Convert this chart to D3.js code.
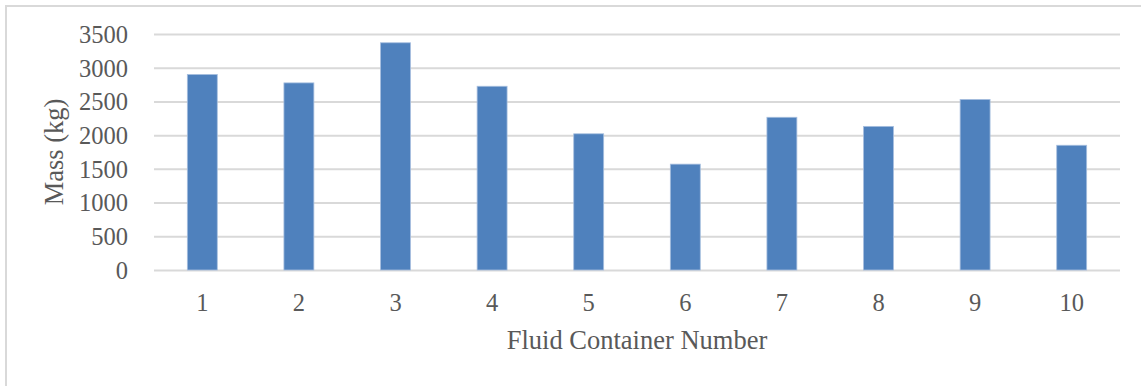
<!DOCTYPE html>
<html>
<head>
<meta charset="utf-8">
<script src="https://cdn.jsdelivr.net/npm/d3@7"></script>
<style>
html,body{margin:0;padding:0;background:#fff;}
svg{display:block;}
text{font-family:"Liberation Serif","Times New Roman",serif;fill:#595959;}
</style>
</head>
<body>
<svg id="chart" width="1141" height="386"></svg>
<script>
const categories = ["1","2","3","4","5","6","7","8","9","10"];
const massValues = [2900, 2775, 3370, 2725, 2020, 1570, 2265, 2130, 2530, 1850];
const yTicks = [0, 500, 1000, 1500, 2000, 2500, 3000, 3500];
const xTitle = "Fluid Container Number";
const yTitle = "Mass (kg)";

const svg = d3.select("#chart");
const W = 1141, H = 386;
const m = {left:154, right:21, top:34, bottom:116};
const iw = W - m.left - m.right, ih = H - m.top - m.bottom;

// outer frame
svg.append("rect").attr("x",6).attr("y",6).attr("width",W+10).attr("height",H+10)
  .attr("fill","none").attr("stroke","#d9d9d9").attr("stroke-width",2);

const g = svg.append("g").attr("transform",`translate(${m.left},${m.top})`);
const x = d3.scaleBand().domain(categories).range([0,iw]).paddingInner(0.69).paddingOuter(0.345);
const y = d3.scaleLinear().domain([0,3500]).range([ih,0]);

// gridlines
const yAxis = d3.axisLeft(y).tickValues(yTicks).tickSize(-iw).tickPadding(26).tickFormat(d3.format("d"));
const ya = g.append("g").call(yAxis);
ya.select(".domain").remove();
ya.selectAll("line").attr("stroke","#d9d9d9").attr("stroke-width",2);
ya.selectAll("text").attr("font-size",24.5).attr("fill","#595959").attr("dy","0.34em");

// bars
g.selectAll(".bar").data(massValues).join("rect")
  .attr("class","bar")
  .attr("x",(d,i)=>x(categories[i]))
  .attr("y",d=>y(d))
  .attr("width",x.bandwidth())
  .attr("height",d=>ih-y(d))
  .attr("fill","#4f81bd")
  .attr("stroke","#a7bfdf").attr("stroke-width",0.8);

// x axis
const xAxis = d3.axisBottom(x).tickSize(0).tickPadding(24);
const xa = g.append("g").attr("transform",`translate(0,${ih})`).call(xAxis);
xa.select(".domain").remove();
xa.selectAll("text").attr("font-size",24.5).attr("fill","#595959");

// titles
svg.append("text").attr("x", m.left + iw/2).attr("y", 349).attr("text-anchor","middle")
  .attr("font-size",26.5).text(xTitle);
svg.append("text").attr("transform",`translate(63,${m.top+ih/2}) rotate(-90)`)
  .attr("text-anchor","middle").attr("font-size",26.5).text(yTitle);
</script>
</body>
</html>
